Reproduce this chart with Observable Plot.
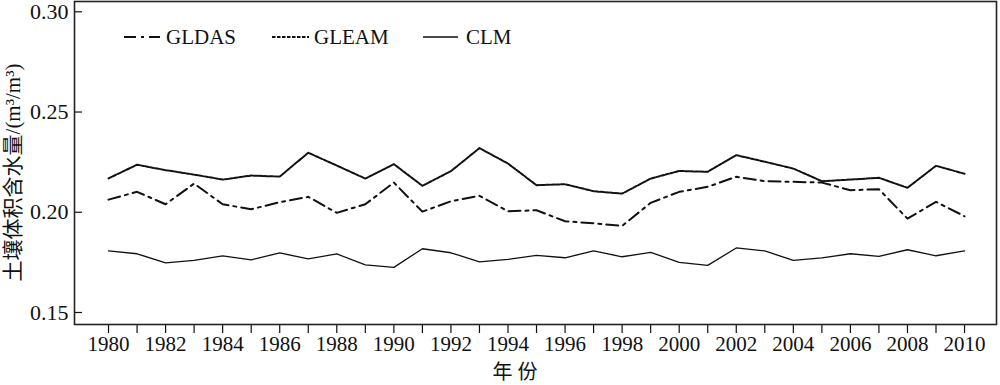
<!DOCTYPE html>
<html><head><meta charset="utf-8">
<script src="https://cdn.jsdelivr.net/npm/d3@7"></script>
<script src="https://cdn.jsdelivr.net/npm/@observablehq/plot@0.6"></script>
<style>
html,body{margin:0;padding:0;background:#fff;}
#wrap{position:relative;width:1000px;height:385px;}
#legend{position:absolute;left:0;top:0;pointer-events:none;}
</style>
</head><body>
<div id="wrap"><div id="chart"></div></div>
<script>
const years = d3.range(1980, 2011);
const gldas = [0.2063,0.2102,0.2040,0.2143,0.2040,0.2015,0.2050,0.2077,0.1997,0.2040,
  0.2148,0.2003,0.2055,0.2082,0.2005,0.2010,0.1955,0.1945,0.1932,0.2047,
  0.2102,0.2127,0.2177,0.2155,0.2152,0.2148,0.2110,0.2115,0.1968,0.2052,0.1980];
const gleam = [0.2169,0.2237,0.2210,0.2188,0.2163,0.2183,0.2178,0.2297,0.2233,0.2168,
  0.2240,0.2132,0.2205,0.2320,0.2243,0.2135,0.2140,0.2105,0.2093,0.2168,
  0.2206,0.2202,0.2285,0.2252,0.2218,0.2155,0.2163,0.2172,0.2122,0.2232,0.2192];
const clm = [0.1807,0.1793,0.1748,0.1760,0.1782,0.1763,0.1797,0.1768,0.1792,0.1738,
  0.1725,0.1818,0.1798,0.1753,0.1765,0.1785,0.1773,0.1807,0.1778,0.1800,
  0.1750,0.1735,0.1822,0.1807,0.1760,0.1772,0.1793,0.1780,0.1813,0.1783,0.1807];
const seriesNames = ["GLDAS", "GLEAM", "CLM"];
const yTicks = [0.15, 0.20, 0.25, 0.30];
const xLabel = "年份";
const yLabel = "土壤体积含水量/(m³/m³)";

const dashes = {GLDAS: "12,5,3,5", GLEAM: "3.5,1.5", CLM: null};
const widths = {GLDAS: 2, GLEAM: 2, CLM: 1.3};
const seriesValues = {GLDAS: gldas, GLEAM: gleam, CLM: clm};
const table = seriesNames.flatMap(s => years.map((yr, i) => ({series: s, year: yr, value: seriesValues[s][i]})));

const serif = "'Liberation Serif', 'Times New Roman', serif";
const mixed = "'Liberation Serif', 'Noto Sans CJK SC', serif";
const cjk = "'Noto Sans CJK SC', sans-serif";

const lineMarks = seriesNames.map(s => Plot.line(table.filter(d => d.series === s), {
  x: "year", y: "value", stroke: "#111", strokeWidth: widths[s],
  strokeDasharray: dashes[s], curve: "linear"
}));

const chart = Plot.plot({
  width: 1000, height: 385,
  marginLeft: 74, marginRight: 4, marginTop: 1, marginBottom: 61,
  style: {fontFamily: serif, fontSize: "21px", color: "#111", background: "#fff"},
  x: {domain: [1978.808, 2011.12]},
  y: {domain: [0.14401, 0.30514]},
  marks: [
    ...lineMarks,
    Plot.tickY(yTicks, {y: d => d, stroke: "#111", strokeWidth: 1.2, insetRight: 1000 - 74 - 4 - 8}),
    Plot.axisY(yTicks, {tickSize: 0, tickPadding: 6, tickFormat: d3.format(".2f"), label: null, fontSize: 22}),
    Plot.axisX(years, {tickSize: 9, tickPadding: 3, tickFormat: d => d % 2 === 0 ? String(d) : "", label: null, fontSize: 21, strokeWidth: 1.2}),
    Plot.frame({stroke: "#222", strokeWidth: 1.6}),
    Plot.text([yLabel], {frameAnchor: "left", textAnchor: "middle", lineAnchor: "middle", rotate: -90, dx: -61, dy: 9.5, fontFamily: mixed, fontSize: 21, fill: "#111"}),
    Plot.text([xLabel], {frameAnchor: "bottom", textAnchor: "middle", lineAnchor: "middle", dx: -18, dy: 48, fontFamily: cjk, fontSize: 20, fill: "#111"})
  ]
});
d3.select(chart).selectAll("text").filter(function() { return this.textContent === xLabel; })
  .style("letter-spacing", "5px");
document.getElementById("chart").appendChild(chart);

// legend overlay
const legendPos = {GLDAS: [124, 160, 166], GLEAM: [272, 309, 314], CLM: [423, 458, 466]};
const ns = "http://www.w3.org/2000/svg";
const lg = document.createElementNS(ns, "svg");
lg.setAttribute("id", "legend");
lg.setAttribute("width", 1000); lg.setAttribute("height", 80);
for (const s of seriesNames) {
  const [x1, x2, tx] = legendPos[s];
  const ln = document.createElementNS(ns, "line");
  ln.setAttribute("x1", x1); ln.setAttribute("x2", x2);
  ln.setAttribute("y1", 37); ln.setAttribute("y2", 37);
  ln.setAttribute("stroke", "#111"); ln.setAttribute("stroke-width", widths[s]);
  if (dashes[s]) ln.setAttribute("stroke-dasharray", dashes[s]);
  lg.appendChild(ln);
  const t = document.createElementNS(ns, "text");
  t.setAttribute("x", tx); t.setAttribute("y", 37);
  t.setAttribute("dy", "0.35em");
  t.setAttribute("font-family", serif); t.setAttribute("font-size", 21);
  t.setAttribute("fill", "#111");
  t.textContent = s;
  lg.appendChild(t);
}
document.getElementById("wrap").appendChild(lg);
</script>
</body></html>
